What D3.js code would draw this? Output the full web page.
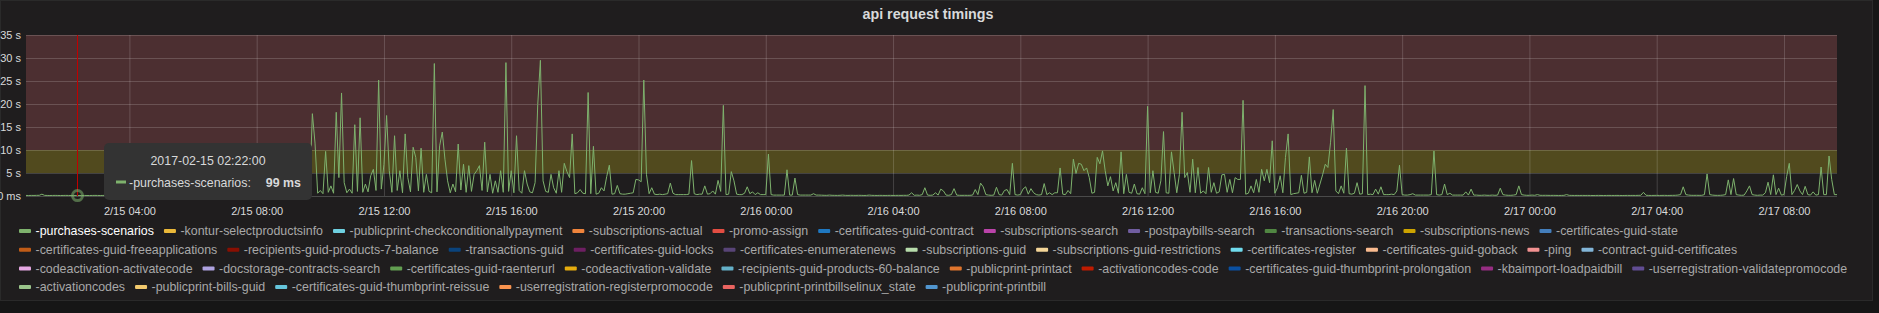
<!DOCTYPE html>
<html>
<head>
<meta charset="utf-8">
<script src="https://cdnjs.cloudflare.com/ajax/libs/d3/7.8.5/d3.min.js"></script>
<style>
  html, body { margin: 0; padding: 0; background: #161616; }
  svg { display: block; font-family: 'Liberation Sans', Arial, sans-serif; }
</style>
</head>
<body>
<div id="chart"></div>
<script>
// ---- data --------------------------------------------------------------
// purchases-scenarios, seconds, one value every 5 minutes from 2/15 00:45
const startTime = new Date(2017, 1, 15, 0, 45);
const stepMinutes = 5;
const timings = [
  // 2/15 00:45
  0.12, 0.11, 0.13, 0.12, 0.14, 0.15, 0.40, 0.14, 0.12, 0.11, 0.12, 0.13,
  0.12, 0.11, 0.12, 0.13, 0.12, 0.11, 0.10, 0.099, 0.10, 0.11, 0.12, 0.11,
  0.11, 0.12, 0.13, 0.12, 0.11, 0.12, 0.14, 0.13, 0.12, 0.11, 0.12, 0.13,
  0.12, 0.13, 0.12, 0.11, 0.12, 0.13, 0.12, 0.14, 0.13, 0.12, 0.11, 0.12,
  // 2/15 04:45
  0.13, 0.12, 0.11, 0.12, 0.13, 0.12, 0.11, 0.12, 0.13, 0.14, 0.12, 0.11,
  0.12, 0.13, 0.12, 0.11, 0.12, 0.13, 0.15, 0.12, 0.11, 0.12, 0.13, 0.12,
  0.11, 0.12, 0.13, 0.12, 0.14, 0.12, 0.11, 0.12, 0.13, 0.12, 0.11, 0.13,
  0.12, 0.13, 0.12, 0.14, 0.13, 0.12, 0.13, 0.14, 0.12, 0.13, 0.15, 0.14,
  // 2/15 08:45
  0.13, 0.12, 0.15, 0.14, 0.20, 0.16, 0.18, 0.25, 0.30, 0.50, 0.40, 1.20,
  17.9, 11.5, 0.6, 1.2, 0.5, 9.7, 0.8, 2.2, 0.6, 18.2, 4.0, 22.4,
  2.9, 0.7, 1.5, 0.6, 15.5, 1.0, 17.0, 0.8, 2.6, 0.9, 4.4, 5.8,
  1.2, 25.2, 1.5, 6.9, 17.5, 5.5, 0.8, 13.1, 1.2, 5.5, 0.7, 13.5,
  // 2/15 12:45
  4.0, 0.9, 10.6, 8.4, 1.1, 10.4, 0.8, 4.7, 1.0, 0.7, 28.8, 0.9,
  10.9, 13.9, 8.0, 3.3, 0.7, 2.6, 0.9, 11.3, 1.3, 6.9, 0.8, 6.6,
  1.0, 4.7, 5.5, 6.6, 1.2, 11.7, 0.9, 4.7, 0.6, 3.3, 0.8, 5.5,
  0.8, 29.0, 1.0, 5.5, 0.7, 13.1, 1.2, 0.6, 5.5, 2.6, 0.9, 0.7,
  // 2/15 16:45
  2.9, 19.9, 29.5, 3.3, 1.0, 0.8, 4.7, 1.8, 0.6, 5.5, 0.8, 7.1,
  5.3, 4.0, 13.5, 0.5, 0.7, 1.4, 0.6, 0.5, 22.5, 0.5, 10.8, 0.4,
  0.6, 1.8, 1.1, 4.2, 6.7, 0.4, 0.5, 2.3, 0.5, 0.4, 0.4, 0.5,
  0.6, 0.7, 3.6, 3.5, 3.1, 25.2, 4.7, 0.5, 1.8, 0.4, 0.3, 0.4,
  // 2/15 20:45
  0.3, 0.4, 0.5, 2.8, 0.6, 0.3, 0.3, 0.3, 0.3, 0.3, 0.4, 7.7,
  0.5, 0.3, 0.4, 0.4, 2.2, 0.4, 0.5, 1.1, 0.4, 3.4, 1.0, 19.7,
  0.3, 0.4, 5.3, 3.3, 0.4, 0.3, 0.3, 0.6, 2.0, 0.5, 0.9, 0.3,
  0.7, 0.3, 0.3, 0.3, 9.1, 0.3, 0.2, 0.2, 0.2, 0.2, 0.2, 5.7,
  // 2/16 00:45
  0.2, 0.2, 3.9, 0.3, 0.2, 0.2, 0.2, 0.2, 0.2, 0.5, 0.2, 0.2,
  0.18, 0.15, 0.14, 0.20, 0.15, 0.14, 0.13, 0.15, 0.20, 0.14, 0.13, 0.15,
  0.14, 0.13, 0.15, 0.14, 0.12, 0.13, 0.20, 0.14, 0.13, 0.12, 0.14, 0.13,
  0.12, 0.13, 0.14, 0.12, 0.13, 0.14, 0.13, 0.15, 0.14, 0.20, 0.7, 0.15,
  // 2/16 04:45
  0.2, 0.15, 0.3, 1.8, 0.2, 0.15, 0.2, 0.7, 0.2, 1.5, 1.1, 0.2,
  0.15, 0.3, 1.6, 0.2, 0.15, 0.14, 0.15, 0.14, 0.15, 0.2, 1.4, 0.3,
  2.8, 2.0, 0.3, 0.2, 0.15, 0.2, 1.9, 0.3, 0.2, 1.2, 1.4, 0.3,
  7.1, 0.3, 0.2, 0.3, 1.5, 2.0, 0.4, 1.6, 0.7, 0.3, 0.2, 0.3,
  // 2/16 08:45
  2.7, 0.3, 0.7, 0.3, 0.7, 0.7, 6.1, 0.4, 0.3, 1.2, 0.5, 8.0,
  4.9, 7.1, 6.9, 5.5, 6.1, 4.0, 0.6, 0.8, 8.4, 7.0, 9.8, 5.5,
  2.2, 4.2, 1.1, 2.9, 0.6, 9.6, 0.5, 4.7, 0.8, 0.6, 2.6, 0.5,
  0.4, 1.8, 0.5, 19.5, 0.7, 5.5, 0.8, 0.6, 3.3, 14.0, 0.7, 0.6,
  // 2/16 12:45
  9.6, 5.1, 0.7, 4.7, 18.2, 4.0, 5.1, 0.8, 8.0, 0.7, 6.2, 0.6,
  1.1, 0.5, 6.2, 0.8, 2.9, 0.6, 0.9, 4.6, 4.7, 0.8, 3.6, 0.7,
  4.0, 3.6, 3.6, 20.8, 0.4, 0.6, 2.2, 0.7, 3.6, 0.8, 5.8, 3.3,
  5.8, 2.9, 12.0, 0.6, 1.8, 4.4, 0.7, 8.4, 13.5, 0.3, 0.5, 0.6,
  // 2/16 16:45
  0.7, 4.5, 0.6, 0.8, 8.5, 0.7, 3.4, 0.6, 2.6, 4.6, 6.9, 6.2,
  11.7, 18.8, 1.1, 0.5, 2.2, 0.6, 10.4, 0.5, 0.4, 0.6, 2.9, 0.4,
  0.5, 24.0, 0.3, 0.4, 0.3, 1.5, 0.4, 2.0, 0.3, 0.3, 0.3, 0.4,
  0.3, 1.1, 6.7, 0.3, 0.2, 0.2, 0.3, 0.5, 0.2, 0.2, 0.2, 0.2,
  // 2/16 20:45
  0.2, 0.2, 0.3, 9.8, 0.3, 0.2, 0.3, 2.6, 0.3, 0.6, 0.2, 0.2,
  0.2, 0.2, 0.2, 0.9, 0.2, 1.5, 0.2, 0.2, 0.15, 0.15, 0.2, 0.15,
  0.15, 0.2, 0.15, 0.2, 1.7, 0.3, 0.2, 0.15, 0.15, 0.2, 0.3, 2.2,
  0.3, 0.2, 0.15, 0.15, 0.2, 0.15, 0.3, 0.15, 0.14, 0.15, 0.14, 0.13,
  // 2/17 00:45
  0.14, 0.13, 0.12, 0.13, 0.14, 0.3, 0.14, 0.13, 0.12, 0.13, 0.12, 0.13,
  0.12, 0.13, 0.12, 0.11, 0.12, 0.13, 0.12, 0.11, 0.12, 0.13, 0.12, 0.12,
  0.13, 0.12, 0.11, 0.12, 0.13, 0.12, 0.13, 0.12, 0.14, 0.15, 0.8, 0.15,
  0.13, 0.12, 0.13, 0.14, 0.12, 0.13, 0.14, 0.12, 0.13, 0.14, 0.15, 0.2,
  // 2/17 04:45
  0.3, 2.0, 0.3, 0.2, 0.15, 0.14, 0.15, 0.14, 0.15, 0.3, 4.8, 0.3,
  0.2, 0.15, 0.14, 0.15, 0.2, 0.3, 3.5, 0.3, 3.8, 0.3, 0.2, 0.15,
  0.2, 1.1, 2.2, 0.3, 0.2, 0.15, 0.2, 0.2, 0.7, 3.0, 0.3, 4.6,
  0.3, 1.7, 0.2, 0.3, 4.2, 7.1, 0.3, 1.2, 2.5, 1.1, 0.3, 2.1,
  // 2/17 08:45
  0.3, 0.2, 0.9, 0.2, 0.3, 6.3, 0.3, 0.3, 8.7, 3.6, 0.3, 0.3
];

const yTicks = [0, 5, 10, 15, 20, 25, 30, 35];
const warnLevel = 5;
const critLevel = 10;

const hoverTime = new Date(2017, 1, 15, 2, 22);
const hoverValue = 0.099;
const hoverLabel = '99 ms';

const legendRows = [
  ['-purchases-scenarios', '-kontur-selectproductsinfo', '-publicprint-checkconditionallypayment', '-subscriptions-actual', '-promo-assign', '-certificates-guid-contract', '-subscriptions-search', '-postpaybills-search', '-transactions-search', '-subscriptions-news', '-certificates-guid-state'],
  ['-certificates-guid-freeapplications', '-recipients-guid-products-7-balance', '-transactions-guid', '-certificates-guid-locks', '-certificates-enumeratenews', '-subscriptions-guid', '-subscriptions-guid-restrictions', '-certificates-register', '-certificates-guid-goback', '-ping', '-contract-guid-certificates'],
  ['-codeactivation-activatecode', '-docstorage-contracts-search', '-certificates-guid-raenterurl', '-codeactivation-validate', '-recipients-guid-products-60-balance', '-publicprint-printact', '-activationcodes-code', '-certificates-guid-thumbprint-prolongation', '-kbaimport-loadpaidbill', '-userregistration-validatepromocode'],
  ['-activationcodes', '-publicprint-bills-guid', '-certificates-guid-thumbprint-reissue', '-userregistration-registerpromocode', '-publicprint-printbillselinux_state', '-publicprint-printbill']
];

const palette = [
  '#7EB26D', '#EAB839', '#6ED0E0', '#EF843C', '#E24D42', '#1F78C1', '#BA43A9', '#705DA0',
  '#508642', '#CCA300', '#447EBC', '#C15C17', '#890F02', '#0A437C', '#6D1F62', '#584477',
  '#B7DBAB', '#F4D598', '#70DBED', '#F9BA8F', '#F29191', '#82B5D8', '#E5A8E2', '#AEA2E0',
  '#629E51', '#E5AC0E', '#64B0C8', '#E0752D', '#BF1B00', '#0A50A1', '#962D82', '#614D93',
  '#9AC48A', '#F2C96D', '#65C5DB', '#F9934E', '#EA6460', '#5195CE'
];

// ---- chart -------------------------------------------------------------
const W = 1879, H = 313;
const plot = { left: 26, right: 1837, top: 35, bottom: 196 };
const textColor = '#d8d9da';
const gridColor = 'rgba(255,255,255,0.17)';
const fontFamily = 'Liberation Sans, Arial, sans-serif';

const points = timings.map((v, i) => ({
  t: d3.timeMinute.offset(startTime, i * stepMinutes),
  v
}));

const svg = d3.select('#chart').append('svg')
  .attr('width', W)
  .attr('height', H);

svg.append('rect').attr('width', W).attr('height', H).attr('fill', '#161616');
svg.append('rect')
  .attr('x', 0.5).attr('y', 0.5)
  .attr('width', 1872).attr('height', 300)
  .attr('fill', '#1f1d1e')
  .attr('stroke', '#2a2a2a');

svg.append('text')
  .attr('x', 928).attr('y', 19)
  .attr('text-anchor', 'middle')
  .attr('fill', textColor)
  .style('font-size', '14.3px')
  .style('font-weight', 'bold')
  .text('api request timings');

const x = d3.scaleTime()
  .domain(d3.extent(points, d => d.t))
  .range([plot.left, plot.right]);
const y = d3.scaleLinear()
  .domain([0, 35])
  .range([plot.bottom, plot.top]);

// threshold bands
svg.append('rect')
  .attr('x', plot.left).attr('y', y(35))
  .attr('width', plot.right - plot.left).attr('height', y(critLevel) - y(35))
  .attr('fill', 'rgb(76,47,49)');
svg.append('rect')
  .attr('x', plot.left).attr('y', y(critLevel))
  .attr('width', plot.right - plot.left).attr('height', y(warnLevel) - y(critLevel))
  .attr('fill', 'rgb(81,74,30)');

// grid
const xTicks = d3.timeHour.every(4).range(x.domain()[0], x.domain()[1]);
svg.append('g')
  .attr('transform', `translate(0,${plot.bottom})`)
  .call(d3.axisBottom(x).tickValues(xTicks).tickSize(-(plot.bottom - plot.top)).tickFormat(''))
  .call(sel => {
    sel.select('.domain').remove();
    sel.selectAll('line').attr('stroke', gridColor);
  });
svg.append('g')
  .attr('transform', `translate(${plot.left},0)`)
  .call(d3.axisLeft(y).tickValues(yTicks.filter(v => v > 0)).tickSize(-(plot.right - plot.left)).tickFormat(''))
  .call(sel => {
    sel.select('.domain').remove();
    sel.selectAll('line').attr('stroke', gridColor);
  });
svg.append('line')
  .attr('x1', plot.left).attr('x2', plot.right)
  .attr('y1', plot.bottom + 0.5).attr('y2', plot.bottom + 0.5)
  .attr('stroke', '#4a4a4a');

// tick labels
svg.append('g')
  .attr('transform', `translate(0,${plot.bottom})`)
  .call(d3.axisBottom(x).tickValues(xTicks).tickSize(0).tickPadding(11).tickFormat(d3.timeFormat('%-m/%d %H:%M')))
  .call(sel => {
    sel.select('.domain').remove();
    sel.selectAll('text').attr('fill', textColor).style('font-size', '11px').style('font-family', fontFamily);
  });
svg.append('g')
  .attr('transform', `translate(${plot.left - 5},0)`)
  .call(d3.axisLeft(y).tickValues(yTicks).tickSize(0).tickPadding(0).tickFormat(v => v === 0 ? '0 ms' : `${v} s`))
  .call(sel => {
    sel.select('.domain').remove();
    sel.selectAll('text').attr('fill', textColor).style('font-size', '11px').style('font-family', fontFamily);
  });

// series line
svg.append('path')
  .datum(points)
  .attr('fill', 'none')
  .attr('stroke', palette[0])
  .attr('stroke-width', 1)
  .attr('d', d3.line().x(d => x(d.t)).y(d => y(d.v)));

// hover marker
const hx = Math.round(x(hoverTime)) + 0.5;
svg.append('line')
  .attr('x1', hx).attr('x2', hx)
  .attr('y1', plot.top).attr('y2', plot.bottom)
  .attr('stroke', '#c00000');
svg.append('circle')
  .attr('cx', hx).attr('cy', y(hoverValue))
  .attr('r', 5)
  .attr('fill', 'none')
  .attr('stroke', palette[0])
  .attr('stroke-opacity', 0.55)
  .attr('stroke-width', 3);

// tooltip
const tip = svg.append('g').attr('transform', 'translate(104,143)');
tip.append('rect')
  .attr('width', 208).attr('height', 57).attr('rx', 5)
  .attr('fill', '#333333');
tip.append('text')
  .attr('x', 104).attr('y', 21.5)
  .attr('text-anchor', 'middle')
  .attr('fill', textColor)
  .style('font-size', '12.4px')
  .text(d3.timeFormat('%Y-%m-%d %H:%M:%S')(hoverTime));
tip.append('rect')
  .attr('x', 12).attr('y', 37.5).attr('width', 10).attr('height', 3)
  .attr('fill', palette[0]);
tip.append('text')
  .attr('x', 25).attr('y', 43.5)
  .attr('fill', textColor)
  .style('font-size', '12.4px')
  .text(legendRows[0][0] + ':');
tip.append('text')
  .attr('x', 197).attr('y', 43.5)
  .attr('text-anchor', 'end')
  .attr('fill', textColor)
  .style('font-size', '12.4px')
  .style('font-weight', 'bold')
  .text(hoverLabel);

// legend
const legend = svg.append('g').style('font-size', '12.4px');
let colorIndex = 0;
legendRows.forEach((row, r) => {
  const cy = 231 + r * 18.7;
  let cx = 19;
  row.forEach((name, k) => {
    const color = palette[colorIndex++];
    legend.append('rect')
      .attr('x', cx).attr('y', cy - 2).attr('width', 12).attr('height', 4).attr('rx', 1)
      .attr('fill', color);
    const t = legend.append('text')
      .attr('x', cx + 16.5).attr('y', cy + 4.3)
      .attr('fill', r === 0 && k === 0 ? '#ffffff' : '#a8a8a8')
      .text(name);
    cx += 16.5 + t.node().getComputedTextLength() + 10;
  });
});
</script>
</body>
</html>
